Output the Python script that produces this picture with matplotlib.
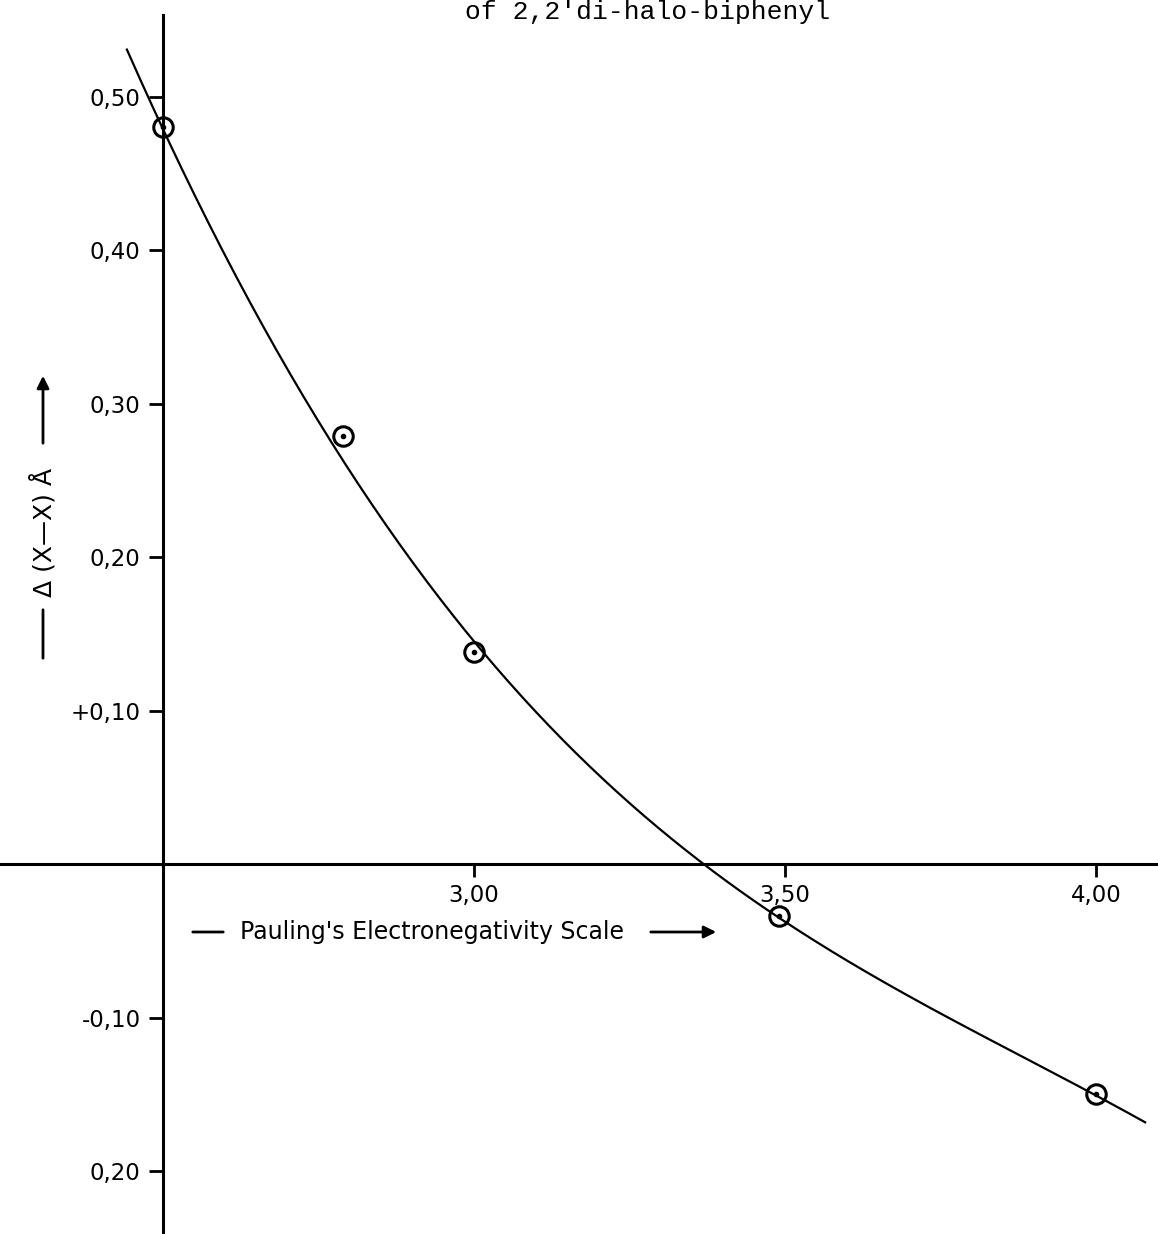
import matplotlib.pyplot as plt
import numpy as np

# measured points (Pauling electronegativity vs Delta(X-X) in Angstrom)
en = [2.50, 2.79, 3.00, 3.49, 4.00]
delta = [0.480, 0.279, 0.138, -0.034, -0.150]

# points
curve_x = [2.442, 2.50, 2.601, 2.776, 2.89, 2.994, 3.095, 3.371, 3.49, 3.745, 3.99, 4.079]
curve_y = [0.525, 0.482, 0.40, 0.279, 0.199, 0.138, 0.098, 0.0, -0.034, -0.10, -0.150, -0.1635]
curve_w = [1, 1, 1, 1, 1, 1, 1, 4, 2, 1, 2, 1]

yticks = [0.5, 0.4, 0.3, 0.2, 0.1, -0.1, -0.2]
ytick_labels = ['0,50', '0,40', '0,30', '0,20', '+0,10', '-0,10', '0,20']
xticks = [3.0, 3.5, 4.0]
xtick_labels = ['3,00', '3,50', '4,00']

W, H = 1158, 1234
fig = plt.figure(figsize=(W / 100, H / 100), dpi=100)
ax = fig.add_axes([0, 0, 1, 1])
ax.set_xlim(2.238, 4.0997)
ax.set_ylim(-0.241, 0.5629)

# smooth curve through the traced points
coef = np.polyfit(curve_x, curve_y, 4, w=curve_w)
xs = np.linspace(min(curve_x), max(curve_x), 300)
ax.plot(xs, np.polyval(coef, xs), color='black', lw=1.6)

# data markers: open circle with centre dot
ax.plot(en, delta, 'o', ms=14, mfc='none', mec='black', mew=2.2)
ax.plot(en, delta, 'o', ms=3, color='black')

# axes through origin
for s in ['top', 'right']:
    ax.spines[s].set_visible(False)
ax.spines['left'].set_position(('data', 2.5))
ax.spines['left'].set_bounds(-0.25, 0.553)
ax.spines['bottom'].set_position(('data', 0))
ax.spines['left'].set_linewidth(2.2)
ax.spines['bottom'].set_linewidth(2.2)

ax.set_yticks(yticks)
ax.set_yticklabels(ytick_labels)
ax.set_xticks(xticks)
ax.set_xticklabels(xtick_labels)
ax.tick_params(axis='y', direction='out', length=10, width=2, pad=6, labelsize=16.5)
ax.tick_params(axis='x', direction='out', length=9, width=2, pad=5, labelsize=16.5)

# title line (cut off at the top in the scan)
fig.text(648 / W, 1.0, "of 2,2'di-halo-biphenyl", ha='center', va='top',
         family='Liberation Mono', fontsize=19)

# axis labels with arrows
fig.text(432 / W, 1 - 932 / H, "Pauling's Electronegativity Scale", ha='center', va='center',
         fontsize=17)
ax.annotate('', xy=(226, H - 932), xytext=(190, H - 932), xycoords='figure pixels',
            arrowprops=dict(arrowstyle='-', lw=2, color='black'))
ax.annotate('', xy=(719, H - 932), xytext=(648, H - 932), xycoords='figure pixels',
            arrowprops=dict(arrowstyle='-|>', lw=2, color='black', mutation_scale=18))

fig.text(43 / W, 1 - 532 / H, "\u0394 (X\u2014X) \u00c5", ha='center', va='center',
         rotation=90, fontsize=18)
ax.annotate('', xy=(43, H - 607), xytext=(43, H - 661), xycoords='figure pixels',
            arrowprops=dict(arrowstyle='-', lw=2, color='black'))
ax.annotate('', xy=(43, H - 373), xytext=(43, H - 446), xycoords='figure pixels',
            arrowprops=dict(arrowstyle='-|>', lw=2, color='black', mutation_scale=18))

fig.savefig('out.png', dpi=100)
